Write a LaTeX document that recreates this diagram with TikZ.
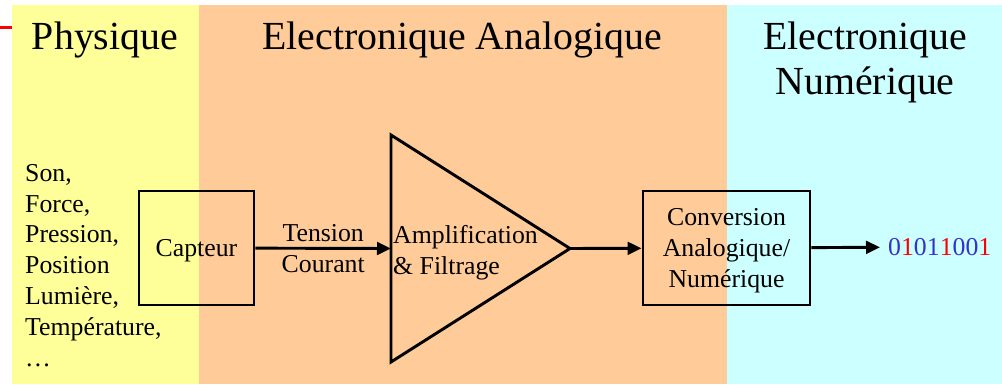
\documentclass[tikz,border=0pt]{standalone}
\usepackage{fontspec}
\setmainfont{Liberation Serif}
\usetikzlibrary{positioning,arrows.meta}
\definecolor{zonejaune}{RGB}{255,255,153}
\definecolor{zoneorange}{RGB}{255,204,153}
\definecolor{zonecyan}{RGB}{204,255,255}
\definecolor{bitbleu}{RGB}{51,51,204}
\definecolor{bitrouge}{RGB}{255,0,0}
\newcommand{\grand}{\fontsize{34}{38.4}\selectfont}
\newcommand{\petit}{\fontsize{22}{26.3}\selectfont}
\newcommand{\bz}{{\color{bitbleu}0}}
\newcommand{\bu}{{\color{bitbleu}1}}
\newcommand{\ru}{{\color{bitrouge}1}}
\tikzset{
  bloc/.style={draw, line width=2.5pt, inner sep=0pt, font=\petit, align=center, text depth=0pt},
  fleche/.style={-{Triangle[length=4.2mm,width=3.8mm]}, line width=2.5pt},
  titre/.style={font=\grand, align=center, inner sep=0pt},
  txt/.style={font=\petit, inner sep=0pt}
}

\begin{document}
\begin{tikzpicture}[x=0.03cm, y=-0.03cm]
        \useasboundingbox (0,0) rectangle (1002,384);
        % zones
        \fill[zonejaune] (12,5) rectangle (199,384);
        \fill[zoneorange] (199,5) rectangle (727,384);
        \fill[zonecyan] (727,5) rectangle (1002,384);
        \draw[bitrouge, line width=2.5pt] (0,27.5) -- (12,27.5);
        % titres
        \node[titre, anchor=base] (physique) at (105,49) {Physique};
        \node[titre, anchor=base] (analog) at (462,49) {Electronique Analogique};
        \node[titre] (numer) at (865,62) {Electronique\\Numérique};
        % grandeurs physiques
        \node[txt, align=left, anchor=north west] (grandeurs) at (25,164)
          {Son,\\Force,\\Pression,\\Position\\Lumière,\\Température,\\\dots};
        % chaine
        \node[bloc, minimum width=3.45cm, minimum height=3.42cm] (capteur) at (196.5,248) {Capteur};
        \coordinate (ampentree) at (391,248.5);
        \coordinate (ampsortie) at (570,248.5);
        \draw[line width=2.5pt, line join=miter] (391,135) -- (ampsortie) -- (391,362) -- cycle;
        \node[txt, align=left, anchor=west] (amplif) at (393,253) {Amplification\\\& Filtrage};
        \node[bloc, minimum width=5.01cm, minimum height=3.42cm] (conversion) at (726.5,248)
          {Conversion\\Analogique/\\Numérique};
        \node[txt, anchor=west, inner xsep=6.8pt] (bits) at (880,247) {\bz\ru\bz\bu\ru\bz\bz\ru};
        \draw[fleche] (capteur) -- node[txt, align=center] (signal) {Tension\\Courant} (ampentree);
        \draw[fleche] (ampsortie) -- (conversion);
        \draw[fleche] (conversion) -- (bits);
      \end{tikzpicture}
\end{document}
